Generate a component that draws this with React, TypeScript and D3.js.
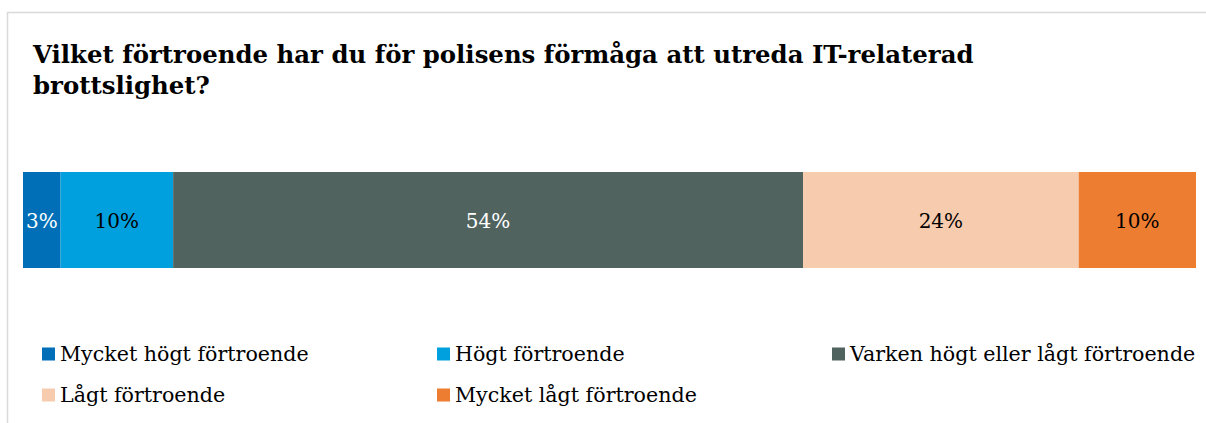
import React from "react";
import * as d3 from "d3";

const categories = [
  "Mycket högt förtroende",
  "Högt förtroende",
  "Varken högt eller lågt förtroende",
  "Lågt förtroende",
  "Mycket lågt förtroende",
];
const values = [3.2, 9.6, 53.7, 23.5, 10.0];
const colors = ["#006fb7", "#009fde", "#51635f", "#f7cbae", "#ed7d31"];
const labelColors = ["#ffffff", "#000000", "#ffffff", "#000000", "#000000"];
const titleLines = [
  "Vilket förtroende har du för polisens förmåga att utreda IT-relaterad",
  "brottslighet?",
];

const W = 1206;
const H = 423;
const FONT = "'DejaVu Serif', Georgia, serif";

export default function App() {
  const x = d3.scaleLinear().domain([0, d3.sum(values)]).range([23, 1196]);
  const cum = d3.cumsum(values);
  const starts = values.map((v, i) => cum[i] - v);
  const barTop = 172;
  const barH = 96;

  const legendCols = [42, 437, 832];
  const legendRows = [354, 395];

  return (
    <svg
      width={W}
      height={H}
      style={{ position: "absolute", left: 0, top: 0 }}
      fontFamily={FONT}
    >
      <rect width={W} height={H} fill="#ffffff" />
      <path d={`M7.5,${H} V12.5 H${W}`} fill="none" stroke="#d9d9d9" strokeWidth={1.5} />
      {titleLines.map((t, i) => (
        <text
          key={i}
          x={33}
          y={63 + i * 31}
          fontSize={24.4}
          fontWeight="bold"
          fill="#000"
        >
          {t}
        </text>
      ))}
      {values.map((v, i) => (
        <g key={i}>
          <rect
            x={x(starts[i])}
            y={barTop}
            width={x(cum[i]) - x(starts[i])}
            height={barH}
            fill={colors[i]}
          />
          <text
            x={(x(starts[i]) + x(cum[i])) / 2}
            y={barTop + barH / 2}
            dy="0.4em"
            textAnchor="middle"
            fontSize={20}
            fill={labelColors[i]}
          >
            {Math.round(v)}%
          </text>
        </g>
      ))}
      {categories.map((c, i) => {
        const col = i < 3 ? i : i - 3;
        const row = i < 3 ? 0 : 1;
        const lx = legendCols[col];
        const ly = legendRows[row];
        return (
          <g key={c}>
            <rect x={lx} y={ly - 6.5} width={13} height={13} fill={colors[i]} />
            <text x={lx + 18} y={ly} dy="0.35em" fontSize={20.6} fill="#000">
              {c}
            </text>
          </g>
        );
      })}
    </svg>
  );
}
